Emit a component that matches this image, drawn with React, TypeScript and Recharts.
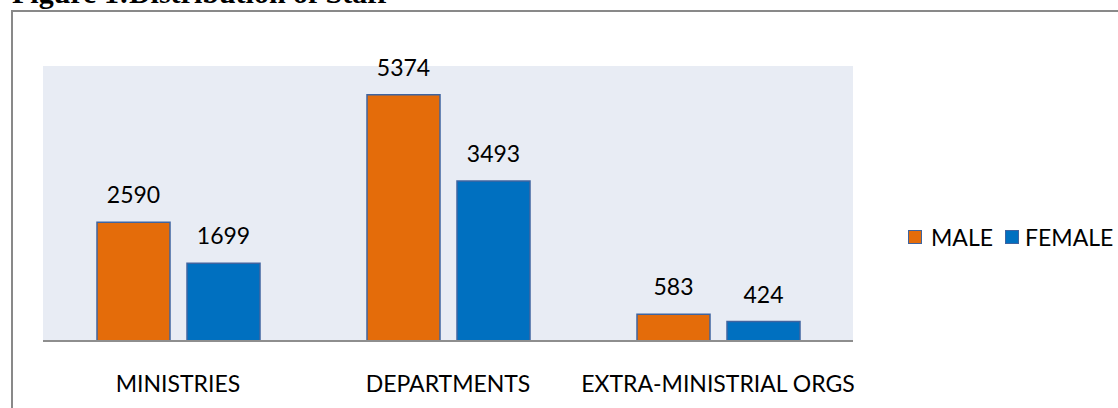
import React from 'react';
import { BarChart, Bar, XAxis, YAxis, CartesianGrid, LabelList } from 'recharts';

const titleText = 'Figure 1:Distribution of Staff';
const categories = ['MINISTRIES', 'DEPARTMENTS', 'EXTRA-MINISTRIAL ORGS'];
const maleValues = [2590, 5374, 583];
const femaleValues = [1699, 3493, 424];
const seriesNames = ['MALE', 'FEMALE'];
const seriesColors = ['#E46C0A', '#0070C0'];
const borderColor = '#3F64A0';
const FONT = 'Lato, "Open Sans", sans-serif';
const FS = 23;

const data = categories.map((c, i) => ({ category: c, male: maleValues[i], female: femaleValues[i] }));

const LegendBox = () => (
  <div style={{ position: 'absolute', left: 908, top: 222, height: 30, lineHeight: '30px', display: 'flex', alignItems: 'center', fontFamily: FONT, fontSize: FS, color: '#000', whiteSpace: 'nowrap' }}>
    {seriesNames.map((n, i) => (
      <div key={n} style={{ display: 'flex', alignItems: 'center', marginRight: i === 0 ? 12 : 0 }}>
        <span style={{ display: 'inline-block', width: 12, height: 12, background: seriesColors[i], border: `1.5px solid ${borderColor}`, marginRight: i === 0 ? 9 : 6 }} />
        <span>{n}</span>
      </div>
    ))}
  </div>
);

export default function App() {
  return (
    <div style={{ position: 'fixed', left: 0, top: 0, width: 1118, height: 408, background: '#fff', overflow: 'hidden' }}>
      <div style={{ position: 'absolute', left: 11, top: 10, width: 1120, height: 410, border: '2px solid #898989', boxSizing: 'border-box' }} />
      <div style={{ position: 'absolute', left: 12, top: -22, fontFamily: '"Liberation Serif", "Times New Roman", serif', fontWeight: 'bold', fontSize: 30, lineHeight: '30px', color: '#000', whiteSpace: 'nowrap' }}>{titleText}</div>
      <div style={{ position: 'absolute', left: 0, top: 0 }}>
        <BarChart width={1118} height={408} data={data} margin={{ top: 66, right: 265, left: 43, bottom: 0 }} barGap={17} barSize={73}>
          <CartesianGrid fill="#E8ECF4" stroke="none" horizontal={false} vertical={false} />
          <YAxis hide domain={[0, 6000]} />
          <XAxis dataKey="category" height={67} tickLine={false} tickSize={0} tickMargin={35} axisLine={{ stroke: '#8E8E8E', strokeWidth: 2 }} tick={{ fill: '#000', fontSize: FS, fontFamily: FONT }} interval={0} />
          <Bar dataKey="male" name={seriesNames[0]} fill={seriesColors[0]} stroke={borderColor} strokeWidth={1.5} isAnimationActive={false}>
            <LabelList dataKey="male" position="top" offset={19} fill="#000" fontSize={FS} fontFamily={FONT} />
          </Bar>
          <Bar dataKey="female" name={seriesNames[1]} fill={seriesColors[1]} stroke={borderColor} strokeWidth={1.5} isAnimationActive={false}>
            <LabelList dataKey="female" position="top" offset={19} fill="#000" fontSize={FS} fontFamily={FONT} />
          </Bar>
        </BarChart>
      </div>
      <LegendBox />
    </div>
  );
}
